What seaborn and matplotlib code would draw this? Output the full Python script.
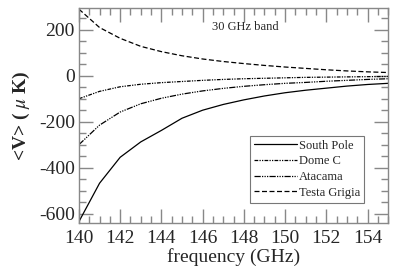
import numpy as np
import pandas as pd
import seaborn as sns
import matplotlib.pyplot as plt
from matplotlib.ticker import MultipleLocator

# frequency grid (GHz) and values (micro K)
freq = [140, 141, 142, 143, 144, 145, 146, 147, 148, 149, 150, 151, 152, 153, 154, 155]
south_pole = [-635, -468, -355, -288, -238, -185, -150, -125, -105, -88, -74, -63, -54, -45, -38, -33]
dome_c = [-100, -68, -48, -37, -30, -25, -20, -16, -13, -11, -9, -7, -6, -5, -4, -3]
atacama = [-300, -215, -158, -122, -98, -80, -66, -55, -46, -39, -33, -29, -24, -20, -16, -13]
testa_grigia = [290, 210, 163, 128, 105, 87, 73, 62, 53, 45, 38, 32, 26, 21, 17, 14]

sites = ["South Pole", "Dome C", "Atacama", "Testa Grigia"]
series = [south_pole, dome_c, atacama, testa_grigia]

df = pd.DataFrame({
    "freq": freq * len(sites),
    "V": [v for s in series for v in s],
    "site": [name for name in sites for _ in freq],
})

sns.set_style("ticks")
plt.rcParams["font.family"] = ["Liberation Serif", "DejaVu Serif"]
plt.rcParams["mathtext.fontset"] = "stix"
plt.rcParams["axes.unicode_minus"] = False

fig = plt.figure(figsize=(4.09, 2.76), dpi=100)
ax = fig.add_axes([0.193, 0.193, 0.756, 0.778])

dashes = {
    "South Pole": "",
    "Dome C": (3, 1, 1, 1, 1, 1),
    "Atacama": (5, 1, 1, 1, 1, 1, 1, 1),
    "Testa Grigia": (4, 2),
}
sns.lineplot(data=df, x="freq", y="V", style="site", dashes=dashes,
             color="black", linewidth=0.9, ax=ax, legend=True)

ax.set_xlim(140, 155)
ax.set_ylim(-640, 295)
ax.xaxis.set_major_locator(MultipleLocator(2))
ax.xaxis.set_minor_locator(MultipleLocator(0.5))
ax.yaxis.set_major_locator(MultipleLocator(200))
ax.yaxis.set_minor_locator(MultipleLocator(50))
ax.tick_params(which="both", direction="in", top=True, right=True,
               color="#888888", labelsize=14)
ax.tick_params(axis="x", pad=5)
ax.tick_params(axis="y", pad=3)
ax.tick_params(which="major", length=10, width=1)
ax.tick_params(which="minor", length=5, width=1)
for sp in ax.spines.values():
    sp.set_color("#888888")
    sp.set_linewidth(1)

ax.set_xlabel("frequency (GHz)", fontsize=14, labelpad=1)
ax.set_ylabel(r"<V> ( $\mu$ K)", fontsize=14, fontweight="bold", labelpad=5)
ax.text(0.537, 0.911, "30 GHz band", fontsize=9, ha="center", va="center",
        transform=ax.transAxes)

leg = ax.legend(loc="lower right", bbox_to_anchor=(0.922, 0.094), fontsize=9,
                frameon=True, fancybox=False, handlelength=3.4,
                handletextpad=0.2, borderpad=0.3, labelspacing=0.3,
                borderaxespad=0)
leg.set_title(None)
leg.get_frame().set_edgecolor("#555555")
leg.get_frame().set_linewidth(0.8)

fig.savefig("out.png", dpi=100)
